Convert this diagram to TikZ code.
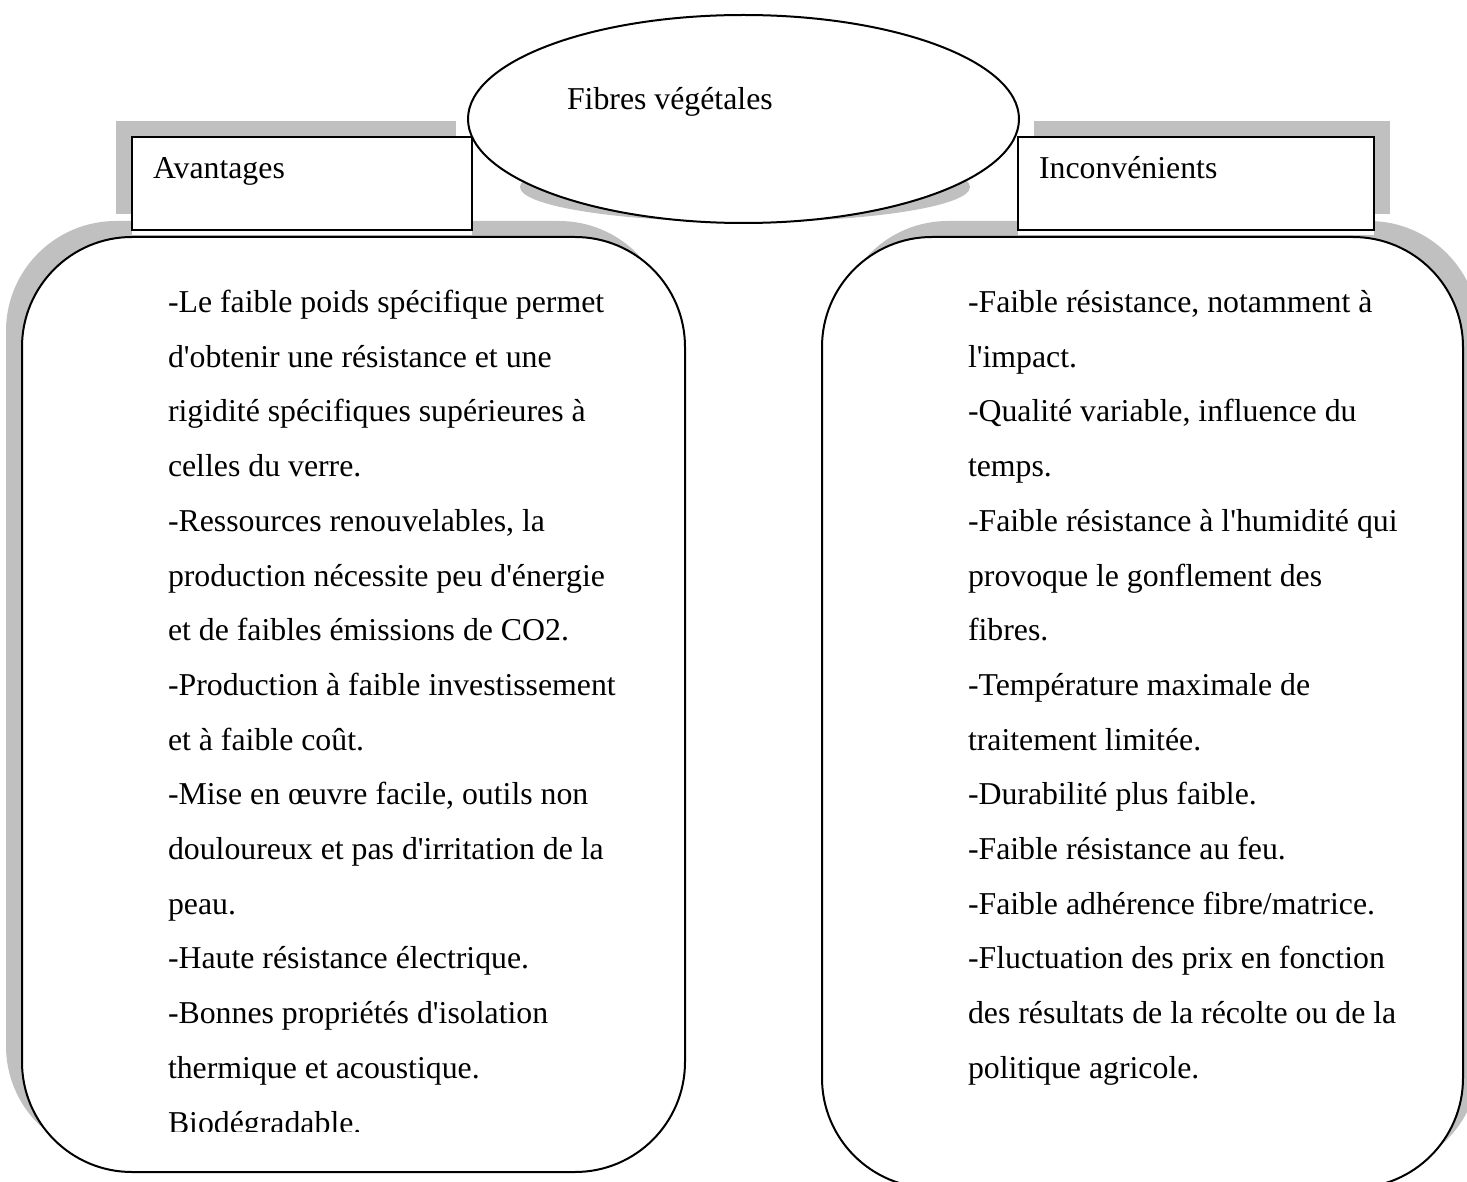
\documentclass[tikz,border=0pt]{standalone}
\usepackage{fontspec}
\setmainfont{Liberation Serif}
\usetikzlibrary{shapes.geometric}
\definecolor{shadowgray}{RGB}{192,192,192}
\newcommand\bodyfont{\fontsize{31.8pt}{54.7pt}\selectfont}
\newcommand\ap{\textquotesingle}
\tikzset{
  shade/.style={fill=shadowgray, draw=none, inner sep=0pt, outer sep=0pt},
  bigbox/.style={draw=black, line width=2pt, fill=white, inner sep=0pt, outer sep=0pt},
  tabbox/.style={draw=black, line width=2.2pt, fill=white, inner sep=0pt, outer sep=0pt},
  txt/.style={anchor=base west, inner sep=0pt, outer sep=0pt, font=\bodyfont},
}
\begin{document}
\begin{tikzpicture}[x=1pt, y=-1pt]
\useasboundingbox (0,0) rectangle (1467,1182);
\clip (0,0) rectangle (1467,1182);
% big rounded boxes with shadows
\node[shade, rounded corners=110pt, minimum width=663pt, minimum height=935pt] (Lsh) at (337.5,688.5) {};
\node[bigbox, rounded corners=110pt, minimum width=663pt, minimum height=935pt] (Lbox) at (353.5,704.5) {};
\node[shade, rounded corners=110pt, minimum width=641pt, minimum height=951pt] (Rsh) at (1158.5,696.5) {};
\node[bigbox, rounded corners=110pt, minimum width=641pt, minimum height=951pt] (Rbox) at (1142.5,712.5) {};
% tab boxes with shadows
\node[shade, minimum width=340pt, minimum height=93pt] (Ash) at (286,167.5) {};
\fill[white] (132,229) rectangle (472,235.5);
\node[tabbox, minimum width=340pt, minimum height=93pt] (Abox) at (302,183.5) {};
\node[shade, minimum width=356pt, minimum height=93pt] (Ish) at (1212,167.5) {};
\fill[white] (1018,229) rectangle (1374,235.5);
\node[tabbox, minimum width=356pt, minimum height=93pt] (Ibox) at (1196,183.5) {};
% ellipse with shadow
\node[shade, ellipse, minimum width=450pt, minimum height=70pt] (Esh) at (745,187) {};
\node[bigbox, ellipse, minimum width=551pt, minimum height=208pt] (Ell) at (743.5,119) {};
% labels
\node[txt] (title) at (567,110) {Fibres végétales};
\node[txt] (av) at (153,179) {Avantages};
\node[txt] (inc) at (1039,179) {Inconvénients};
% left column
\foreach \t [count=\i] in {
  {-Le faible poids spécifique permet},
  {d\ap obtenir une résistance et une},
  {rigidité spécifiques supérieures à},
  {celles du verre.},
  {-Ressources renouvelables, la},
  {production nécessite peu d\ap énergie},
  {et de faibles émissions de CO2.},
  {-Production à faible investissement},
  {et à faible coût.},
  {-Mise en œuvre facile, outils non},
  {douloureux et pas d\ap irritation de la},
  {peau.},
  {-Haute résistance électrique.},
  {-Bonnes propriétés d\ap isolation},
  {thermique et acoustique.}}
  \node[txt] (L\i) at (168,{312.5+54.7*(\i-1)}) {\t};
\begin{scope}
\clip (100,1080) rectangle (680,1131);
\node[txt] (L16) at (168,{312.5+54.7*15}) {Biodégradable.};
\end{scope}
% right column
\foreach \t [count=\i] in {
  {-Faible résistance, notamment à},
  {l\ap impact.},
  {-Qualité variable, influence du},
  {temps.},
  {-Faible résistance à l\ap humidité qui},
  {provoque le gonflement des},
  {fibres.},
  {-Température maximale de},
  {traitement limitée.},
  {-Durabilité plus faible.},
  {-Faible résistance au feu.},
  {-Faible adhérence fibre/matrice.},
  {-Fluctuation des prix en fonction},
  {des résultats de la récolte ou de la},
  {politique agricole.}}
  \node[txt] (R\i) at (968,{312.5+54.7*(\i-1)}) {\t};
\end{tikzpicture}
\end{document}
